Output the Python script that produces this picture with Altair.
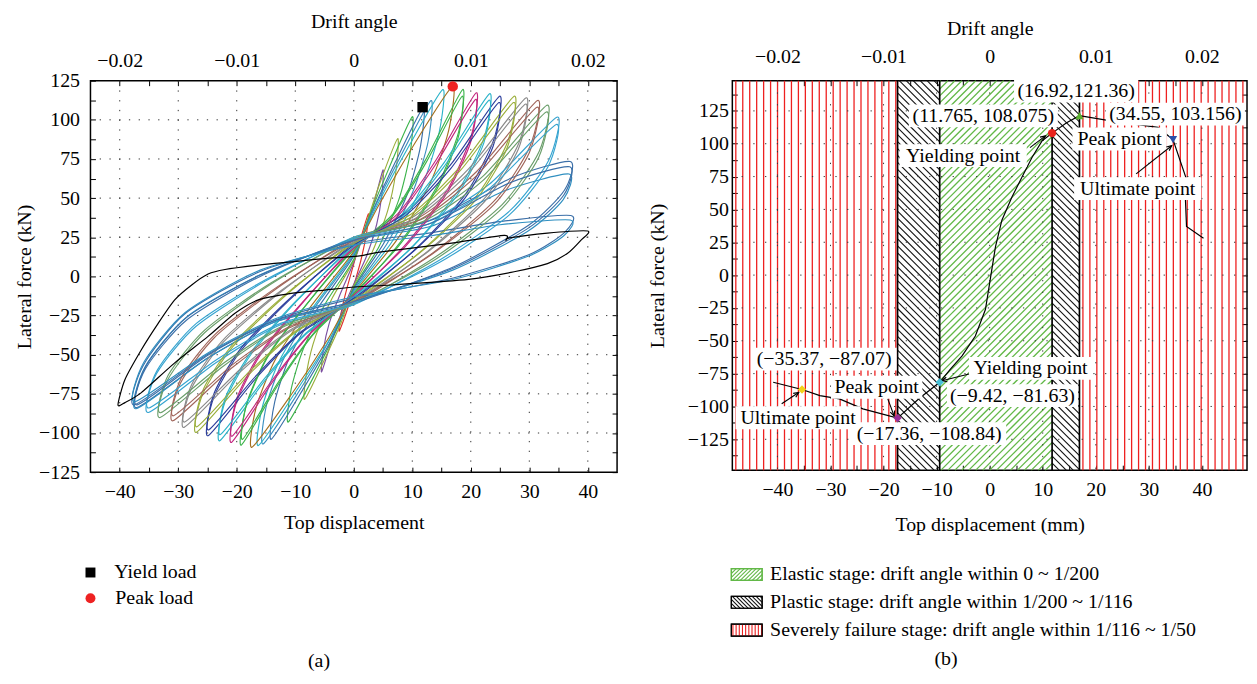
import math
import altair as alt
import pandas as pd

FONT = "Liberation Serif"
FS_LAB = 20
FS_TIT = 20

# ---------------- (a) hysteresis loops: (top displacement mm, lateral force kN) ----------------
LOOP_01 = [(-2.5, -35), (-2.2, -24), (-1.2, -8), (0, 8), (1, 22), (2.5, 40), (2.2, 28), (1.2, 10), (0, -6), (-1, -20)]
LOOP_02 = [(-5.5, -61), (-5.2, -47), (-4.2, -30), (-2.4, -12), (0, 9), (1.8, 28), (3.4, 46), (5, 68), (4.8, 52), (3.9, 33), (2.2, 13), (0, -5), (-2, -22), (-3.7, -40)]
LOOP_03 = [(-8.4, -78.5), (-8, -60), (-6.5, -38), (-3.7, -14), (0, 10), (1.9, 31), (4.5, 60), (7.5, 88), (7.2, 67), (5.8, 42), (3.2, 16), (0, -6), (-2.1, -29), (-5, -53)]
LOOP_04 = [(-11.2, -93), (-10.7, -72), (-8.6, -46), (-4.8, -17), (0, 11), (2.5, 37), (6, 69), (10, 102), (9.6, 78), (7.7, 49), (4.3, 19), (0, -7), (-2.8, -33), (-6.7, -63)]
LOOP_05 = [(-14.1, -104), (-13.5, -80), (-10.9, -51), (-6.1, -20), (0, 13), (3, 40), (7.1, 73), (11.9, 108), (11.4, 83), (9.2, 53), (5.1, 21), (0, -8), (-3.5, -38), (-8.5, -71)]
LOOP_06 = [(-15.5, -107), (-14.9, -82), (-11.9, -52), (-6.7, -20), (0, 14), (3.3, 42), (7.9, 76), (13.2, 112.3), (12.7, 86), (10.2, 55), (5.7, 21), (0, -9), (-3.9, -39), (-9.3, -73)]
LOOP_07 = [(-16.3, -108), (-15.6, -83), (-12.6, -53), (-7, -20), (0, 15), (3.8, 44), (9.1, 81), (15.2, 119.3), (14.6, 92), (11.7, 58), (6.5, 22), (0, -10), (-4.1, -40), (-9.8, -73)]
LOOP_08 = [(-17.4, -109.1), (-16.7, -84), (-13.4, -53), (-7.5, -20), (0, 16), (4.2, 45), (10.1, 83), (16.9, 121.4), (16.2, 93), (13, 59), (7.3, 23), (0, -11), (-4.4, -40), (-10.4, -74)]
LOOP_09 = [(-19.2, -107.7), (-18.4, -83), (-14.8, -52), (-8.3, -19), (0, 18), (6.7, 40), (12.5, 76), (18.6, 119.3), (17.9, 92), (14.3, 58), (8, 22), (0, -12), (-6.9, -37), (-12.9, -69)]
LOOP_10 = [(-20.9, -106), (-20.1, -81), (-16.1, -51), (-9, -18), (0, 19), (7.5, 40), (14, 74), (20.9, 117.2), (20.1, 90), (16.1, 56), (9, 21), (0, -13), (-7.5, -37), (-14, -68)]
LOOP_11 = [(-22.9, -104.9), (-22, -80), (-17.6, -50), (-9.8, -16), (0, 20), (8.4, 40), (15.5, 73), (23.2, 116.6), (22.3, 89), (17.9, 55), (10, 19), (0, -14), (-8.2, -37), (-15.3, -67)]
LOOP_12 = [(-24.9, -101.7), (-23.9, -77), (-19.2, -47), (-10.7, -14), (0, 21), (9, 41), (16.7, 72), (24.9, 115), (23.9, 87), (19.2, 53), (10.7, 18), (0, -15), (-9, -36), (-16.7, -65)]
LOOP_13 = [(-26.9, -99.6), (-25.8, -75), (-20.7, -45), (-11.6, -12), (0, 22), (9.9, 40), (18.4, 71), (27.4, 115), (26.3, 86), (21.1, 52), (11.8, 17), (0, -16), (-9.7, -35), (-18, -63)]
LOOP_14 = [(-29, -96.4), (-27.8, -72), (-22.3, -42), (-12.5, -10), (0, 23), (10.6, 39), (19.7, 69), (29.4, 114), (28.2, 85), (22.6, 51), (12.6, 16), (0, -17), (-10.4, -34), (-19.4, -61)]
LOOP_15 = [(-30.9, -92.2), (-29.6, -68), (-23.8, -39), (-13.3, -8), (0, 24), (11.3, 38), (21, 67), (31.4, 112.3), (30.1, 83), (24.2, 49), (13.5, 15), (0, -17), (-11.1, -33), (-20.7, -58)]
LOOP_16 = [(-33.1, -90.1), (-31.8, -66), (-25.5, -36), (-14.2, -5), (0, 25), (11.9, 37), (22.1, 64), (33, 109.3), (31.7, 80), (25.4, 46), (14.2, 13), (0, -18), (-11.9, -32), (-22.2, -57)]
LOOP_17 = [(-35.1, -86.9), (-33.7, -62), (-27, -32), (-15.1, -3), (0, 25), (12.5, 35), (23.2, 59), (34.7, 101.7), (33.3, 74), (26.7, 42), (14.9, 11), (0, -18), (-12.6, -31), (-23.5, -55)]
LOOP_18 = [(-37.1, -83.8), (-35.6, -59), (-28.6, -28), (-16, 0), (0, 24), (13.3, 36), (27, 63), (37, 73.4), (36, 55), (30, 33), (17, 6), (0, -17), (-13.4, -29), (-24.9, -52)]
LOOP_19 = [(-37.2, -84.5), (-35.7, -58), (-28.6, -26), (-16, 1), (0, 23), (13.2, 32), (26, 55), (36.8, 65.4), (35.8, 49), (29.8, 29), (16.9, 4), (0, -16), (-13.4, -29), (-24.9, -52)]
LOOP_20 = [(-37.5, -82), (-36, -57), (-28.9, -24), (-16.1, 3), (0, 21), (13.4, 28), (25, 35), (37.1, 38.9), (36, 28), (30, 14), (17, -1), (0, -14), (-13.5, -28), (-25.1, -50)]
# repeated (second) cycles at the same amplitudes
LOOP_09B = [(-19.0, -104), (-18.2, -80), (-14.6, -50), (-8.1, -18), (0, 17), (6.5, 38), (12.4, 73), (18.5, 115), (17.8, 88), (14.1, 55), (7.8, 20), (0, -11), (-6.8, -36), (-12.8, -67)]
LOOP_10B = [(-20.8, -102), (-20, -78), (-16, -49), (-8.9, -17), (0, 18), (7.4, 38), (13.9, 71), (20.8, 113), (20, 86), (15.9, 53), (8.8, 19), (0, -12), (-7.4, -36), (-13.9, -66)]
LOOP_11B = [(-22.8, -101), (-21.9, -77), (-17.5, -48), (-9.7, -15), (0, 19), (8.3, 38), (15.4, 70), (23.1, 112.5), (22.2, 85), (17.7, 52), (9.8, 18), (0, -13), (-8.1, -36), (-15.2, -65)]
LOOP_12B = [(-24.8, -98), (-23.8, -74), (-19.1, -45), (-10.6, -13), (0, 20), (8.9, 39), (16.6, 69), (24.8, 111), (23.8, 83), (19, 50), (10.5, 17), (0, -14), (-8.9, -35), (-16.6, -63)]
LOOP_13B = [(-26.8, -96), (-25.7, -72), (-20.6, -43), (-11.5, -11), (0, 21), (9.8, 38), (18.3, 68), (27.3, 111), (26.2, 82), (20.9, 49), (11.6, 16), (0, -15), (-9.6, -34), (-17.9, -61)]
LOOP_14B = [(-28.9, -93), (-27.7, -69), (-22.2, -40), (-12.4, -9), (0, 22), (10.5, 37), (19.6, 66), (29.3, 110), (28.1, 81), (22.4, 48), (12.4, 15), (0, -16), (-10.3, -33), (-19.3, -59)]
LOOP_15B = [(-30.8, -89), (-29.5, -65), (-23.7, -37), (-13.2, -7), (0, 23), (11.2, 36), (20.9, 64), (31.3, 108), (30, 79), (24, 46), (13.3, 14), (0, -16), (-11, -32), (-20.6, -56)]
LOOP_16B = [(-33, -87), (-31.7, -63), (-25.4, -34), (-14.1, -4), (0, 24), (11.8, 35), (22, 61), (32.9, 105), (31.6, 76), (25.2, 43), (14, 11), (0, -17), (-11.8, -31), (-22.1, -55)]
LOOP_17B = [(-35, -84), (-33.6, -60), (-26.9, -30), (-15, -2), (0, 24), (12.4, 33), (23.1, 56), (34.6, 97), (33.2, 70), (26.5, 39), (14.7, 9), (0, -17), (-12.5, -30), (-23.4, -53)]
LOOP_18B = [(-37, -82), (-35.5, -57), (-28.5, -26), (-15.9, 1), (0, 23), (13.2, 34), (26.8, 60), (36.9, 70), (35.9, 52), (29.9, 31), (16.9, 5), (0, -16), (-13.3, -28), (-24.8, -50)]
LOOP_20B = [(-37.4, -80), (-35.9, -55), (-28.8, -23), (-16, 4), (0, 20), (13.3, 26), (25, 33), (37, 36), (35.9, 26), (29.9, 13), (16.9, -2), (0, -13), (-13.4, -27), (-25, -49)]

LOOPS = [LOOP_01, LOOP_02, LOOP_03, LOOP_04, LOOP_05, LOOP_06, LOOP_07, LOOP_08, LOOP_09, LOOP_10,
         LOOP_11, LOOP_12, LOOP_13, LOOP_14, LOOP_15, LOOP_16, LOOP_17, LOOP_18, LOOP_19, LOOP_20,
         LOOP_09B, LOOP_10B, LOOP_11B, LOOP_12B, LOOP_13B, LOOP_14B, LOOP_15B, LOOP_16B, LOOP_17B,
         LOOP_18B, LOOP_20B]
LOOP_COLORS = ["#e0302a", "#7b4fa0", "#9aae3a", "#3cb44b", "#3b6fa8", "#3a8fc0", "#2bb3c9", "#a4701f",
               "#3cb44b", "#c2267e", "#2bb3c9", "#2c3e9c", "#9aae3a", "#8a8a8a", "#a0655a", "#6a9e6a",
               "#36a4d0", "#3b6fa8", "#2f8fc0", "#3b6fa8",
               "#3cb44b", "#c2267e", "#2bb3c9", "#2c3e9c", "#9aae3a", "#8a8a8a", "#a0655a", "#6a9e6a",
               "#36a4d0", "#3b6fa8", "#2f8fc0"]

BLACK_LOOP = [(-40.3, -82), (-39.1, -65.8), (-36.3, -46.8), (-33.4, -29.8), (-30.6, -15), (-27.7, -5.5),
              (-24.9, 1.5), (-22, 4.4), (-16.3, 7.2), (-10.7, 9.3), (-5, 11.4), (0.7, 12.9), (4.7, 15.7),
              (16.1, 20.9), (25.7, 26.2), (26, 23), (26.6, 24.6), (33.1, 27.7), (40, 29),
              (38.8, 23), (36.5, 14.6), (33.1, 8.2), (27.4, 3), (19.6, -1.9), (6.4, -5.5), (0.7, -6.6),
              (-5, -8.7), (-10.7, -10.8), (-16.3, -15), (-20.3, -23.5), (-24.9, -38.3), (-30.6, -55.2),
              (-36.3, -74.2), (-39.1, -80.6)]

A_MARK_X = [11.765, 16.92]
A_MARK_Y = [108.075, 121.36]
A_MARK_NAME = ["Yield load", "Peak load"]
A_MARK_COLOR = ["black", "#ee2222"]
A_MARK_SHAPE = ["square", "circle"]

# ---------------- (b) skeleton curve and stage division ----------------
SKEL_X = [-40.8, -35.37, -32.0, -28.3, -23.9, -17.36, -13.3, -9.42, -7.4, -5.2, -2.7, -0.8, 0.1, 1.1,
          2.3, 4.2, 6.1, 8.0, 9.9, 11.765, 14.5, 16.92, 22.8, 31.7, 34.55, 37.0, 36.9, 37.1, 40.3]
SKEL_Y = [-81.6, -87.07, -91.7, -94.2, -101.8, -108.84, -94.0, -81.63, -71.5, -61.5, -46.4, -26.2, -3.5,
          21.7, 41.8, 59.5, 74.6, 89.7, 102.3, 108.075, 116.0, 121.36, 117.4, 112.4, 103.156, 74.0, 57.0,
          37.0, 28.0]

KEY_X = [11.765, 16.92, 34.55, -9.42, -17.36, -35.37]
KEY_Y = [108.075, 121.36, 103.156, -81.63, -108.84, -87.07]
KEY_COLOR = ["#e8221c", "#5cb030", "#2d4fa8", "#46c0d8", "#9b2e9b", "#f2d21b"]
KEY_SHAPE = ["circle", "triangle-up", "triangle-down", "diamond", "diamond", "diamond"]

STAGE_EDGES = [-17.36, -9.42, 11.765, 16.92]

LAB_TEXT = ["(16.92,121.36)", "(11.765, 108.075)", "(34.55, 103.156)", "Peak piont", "Ultimate point",
            "Yielding point", "(\u221235.37, \u221287.07)", "Peak point", "Ultimate point",
            "(\u221217.36, \u2212108.84)", "Yielding point", "(\u22129.42, \u221281.63)"]
LAB_X = [16.3, -1.2, 35.0, 24.5, 27.9, -5.0, -31.2, -21.3, -36.1, -11.4, 7.7, 4.3]
LAB_Y = [140.1, 121.2, 122.5, 103.6, 65.8, 91.0, -64.0, -85.4, -108.6, -120.7, -71.0, -91.7]
LAB_W = [125, 150, 140, 95, 128, 128, 146, 92, 126, 155, 124, 132]

ARR_X1 = [7.6, 27.6, -3.9, -19.2, -39.2]
ARR_Y1 = [97.0, 77.0, -75.3, -94.2, -98.0]
ARR_X2 = [10.5, 34.3, -9.0, -18.0, -36.0]
ARR_Y2 = [106.0, 98.5, -80.4, -107.3, -89.4]

LEG_B_TEXT = ["Elastic stage: drift angle within 0 ~ 1/200",
              "Plastic stage: drift angle within 1/200 ~ 1/116",
              "Severely failure stage: drift angle within 1/116 ~ 1/50"]

# ---------------- layout / style ----------------
WL, HL = 530, 394
XL, YL = [-45, 45], [-125, 125]
WR, HR = 518, 392
XR, YR = [-48.5, 48.5], [-148.5, 148.0]
KXR = WR / (XR[1] - XR[0])
KYR = HR / (YR[1] - YR[0])
GREEN = "#62b847"
RED = "#ee2020"


def axis(orient, values, label_expr, title, lab_pad, tit_pad, labels=True):
    kw = dict(orient=orient, values=values, grid=False, domain=False, ticks=True, tickSize=5,
              offset=-5, tickColor="black", tickWidth=1, labelFont=FONT, labelFontSize=FS_LAB,
              labelColor="black", labelOverlap=False, labelFlush=False, labelPadding=lab_pad,
              titleFont=FONT, titleFontSize=FS_TIT, titleFontWeight="normal", titleColor="black",
              titlePadding=tit_pad, title=title, labels=labels)
    if label_expr:
        kw["labelExpr"] = label_expr
    return alt.Axis(**kw)


LBL10 = "datum.value % 10 == 0 ? format(datum.value, 'd') : ''"
LBL25 = "datum.value % 25 == 0 ? format(datum.value, 'd') : ''"
LBLDR = "datum.value % 20 == 0 ? (datum.value == 0 ? '0' : format(datum.value / 2000, '.2f')) : ''"
XT = list(range(-40, 45, 5))


def grid_layers(xs, ys, gx, gy, dash):
    g1 = alt.Chart(pd.DataFrame({"v": gx})).mark_rule(strokeDash=dash, color="#333", strokeWidth=1).encode(
        x=alt.X("v:Q", scale=xs, axis=None))
    g2 = alt.Chart(pd.DataFrame({"v": gy})).mark_rule(strokeDash=dash, color="#333", strokeWidth=1).encode(
        y=alt.Y("v:Q", scale=ys, axis=None))
    return [g1, g2]


# ================= panel (a) =================
xsL = alt.Scale(domain=XL, nice=False, zero=False)
ysL = alt.Scale(domain=YL, nice=False, zero=False)
YT_L = [v * 12.5 for v in range(-10, 11)]

rows = []
ids = []
for k, pts in enumerate(LOOPS):
    lid = "L%02d" % (k + 1)
    ids.append(lid)
    for i, (x, y) in enumerate(pts):
        rows.append({"loop": lid, "i": i, "x": x, "y": y})
loops_df = pd.DataFrame(rows)
black_df = pd.DataFrame([{"i": i, "x": x, "y": y} for i, (x, y) in enumerate(BLACK_LOOP)])

loops_a = alt.Chart(loops_df).mark_line(interpolate="cardinal-closed", tension=0.3, strokeWidth=1.15).encode(
    x=alt.X("x:Q", scale=xsL, axis=axis("bottom", XT, LBL10, "Top displacement", 10, 11)),
    y=alt.Y("y:Q", scale=ysL, axis=axis("left", YT_L, LBL25, "Lateral force (kN)", 11, 4)),
    color=alt.Color("loop:N", scale=alt.Scale(domain=ids, range=LOOP_COLORS), legend=None),
    order=alt.Order("i:Q"),
)
black_a = alt.Chart(black_df).mark_line(interpolate="cardinal-closed", tension=0.3, strokeWidth=1.2,
                                        color="black").encode(
    x=alt.X("x:Q", scale=xsL, axis=None), y=alt.Y("y:Q", scale=ysL, axis=None), order=alt.Order("i:Q"))
marks_a = alt.Chart(pd.DataFrame({"x": A_MARK_X, "y": A_MARK_Y, "c": A_MARK_COLOR, "s": A_MARK_SHAPE})).mark_point(
    filled=True, size=110, opacity=1).encode(
    x=alt.X("x:Q", scale=xsL, axis=axis("top", XT, LBLDR, "Drift angle", 10, 20)),
    y=alt.Y("y:Q", scale=ysL, axis=axis("right", YT_L, None, None, 2, 2, labels=False)),
    color=alt.Color("c:N", scale=None), shape=alt.Shape("s:N", scale=None))

panel_a = alt.layer(*grid_layers(xsL, ysL, list(range(-40, 50, 10)), [-100, -75, -50, -25, 0, 25, 50, 75, 100], [1.3, 8.5]),
                    loops_a, black_a, marks_a).resolve_axis(x="independent", y="independent").properties(
    width=WL, height=HL)

# legend (a) + caption, pixel coordinates relative to the plot's left edge
leg_a_pts = pd.DataFrame({"px": [0, 0], "py": [38, 64], "c": A_MARK_COLOR, "s": A_MARK_SHAPE})
leg_a_txt = pd.DataFrame({"px": [24, 25], "py": [38, 64], "t": A_MARK_NAME})
leg_a = alt.layer(
    alt.Chart(leg_a_pts).mark_point(filled=True, size=100, opacity=1).encode(
        x=alt.X("px:Q", scale=None), y=alt.Y("py:Q", scale=None),
        color=alt.Color("c:N", scale=None), shape=alt.Shape("s:N", scale=None)),
    alt.Chart(leg_a_txt).mark_text(font=FONT, fontSize=FS_TIT, align="left",
                                   baseline="middle", color="black").encode(
        x=alt.X("px:Q", scale=None), y=alt.Y("py:Q", scale=None), text="t:N"),
    alt.Chart(pd.DataFrame({"px": [230], "py": [127], "t": ["(a)"]})).mark_text(
        font=FONT, fontSize=FS_TIT, align="center", baseline="middle", color="black").encode(
        x=alt.X("px:Q", scale=None), y=alt.Y("py:Q", scale=None), text="t:N"),
).properties(width=480, height=115, view=alt.ViewBackground(stroke="transparent"))

# ================= panel (b) =================
xsR = alt.Scale(domain=XR, nice=False, zero=False)
ysR = alt.Scale(domain=YR, nice=False, zero=False)
YT_R = [v * 12.5 for v in range(-11, 12)]


def px_of(d):
    return (d - XR[0]) * KXR


def hatch(x0, x1, y0, y1, step, kind):
    segs = []
    if kind == "vert":
        x = x0 + step / 2
        while x < x1:
            segs.append((x, y0, x, y1))
            x += step
    elif kind == "fwd":  # '/'  px + py = c
        for k in range(math.ceil((x0 + y0) / step), math.floor((x1 + y1) / step) + 1):
            c = k * step
            xa, xb = max(x0, c - y1), min(x1, c - y0)
            if xb - xa > 0.3:
                segs.append((xa, c - xa, xb, c - xb))
    else:  # '\'  py - px = c
        for k in range(math.ceil((y0 - x1) / step), math.floor((y1 - x0) / step) + 1):
            c = k * step
            xa, xb = max(x0, y0 - c), min(x1, y1 - c)
            if xb - xa > 0.3:
                segs.append((xa, xa + c, xb, xb + c))
    return segs


def to_data(segs):
    return pd.DataFrame([{"x1": XR[0] + a / KXR, "y1": YR[1] - b / KYR,
                          "x2": XR[0] + c / KXR, "y2": YR[1] - d / KYR} for a, b, c, d in segs])


e0, e1, e2, e3 = STAGE_EDGES
red_segs = hatch(0, px_of(e0), 0, HR, 7, "vert") + hatch(px_of(e3), WR, 0, HR, 7, "vert")
blk_segs = hatch(px_of(e0), px_of(e1), 0, HR, 7, "back") + hatch(px_of(e2), px_of(e3), 0, HR, 7, "back")
grn_segs = hatch(px_of(e1), px_of(e2), 0, HR, 7, "fwd")


def seg_layer(df, color, width):
    return alt.Chart(df).mark_rule(color=color, strokeWidth=width).encode(
        x=alt.X("x1:Q", scale=xsR, axis=None), y=alt.Y("y1:Q", scale=ysR, axis=None),
        x2="x2:Q", y2="y2:Q")


red_l = alt.Chart(pd.DataFrame({"x": [XR[0] + s[0] / KXR for s in red_segs]})).mark_rule(
    color=RED, strokeWidth=1.3).encode(x=alt.X("x:Q", scale=xsR, axis=None))
blk_l = seg_layer(to_data(blk_segs), "#111", 1.1)
grn_l = seg_layer(to_data(grn_segs), GREEN, 1.3)
edge_l = alt.Chart(pd.DataFrame({"x": STAGE_EDGES})).mark_rule(color="black", strokeWidth=1.7).encode(
    x=alt.X("x:Q", scale=xsR, axis=None))

skel_df = pd.DataFrame({"x": SKEL_X, "y": SKEL_Y, "i": list(range(len(SKEL_X)))})
skel_l = alt.Chart(skel_df).mark_line(color="black", strokeWidth=1.2).encode(
    x=alt.X("x:Q", scale=xsR, axis=axis("bottom", XT, LBL10, "Top displacement (mm)", 10, 15)),
    y=alt.Y("y:Q", scale=ysR, axis=axis("left", YT_R, LBL25, "Lateral force (kN)", 4, 20)),
    order=alt.Order("i:Q"))

box_df = pd.DataFrame({
    "x1": [x - w / 2 / KXR for x, w in zip(LAB_X, LAB_W)],
    "x2": [x + w / 2 / KXR for x, w in zip(LAB_X, LAB_W)],
    "y1": [y - 11.5 / KYR for y in LAB_Y],
    "y2": [y + 11.5 / KYR for y in LAB_Y]})
box_l = alt.Chart(box_df).mark_rect(color="white").encode(
    x=alt.X("x1:Q", scale=xsR, axis=None), x2="x2:Q", y=alt.Y("y1:Q", scale=ysR, axis=None), y2="y2:Q")
txt_l = alt.Chart(pd.DataFrame({"x": LAB_X, "y": LAB_Y, "t": LAB_TEXT})).mark_text(
    font=FONT, fontSize=FS_TIT, color="black", align="center", baseline="middle").encode(
    x=alt.X("x:Q", scale=xsR, axis=None), y=alt.Y("y:Q", scale=ysR, axis=None), text="t:N")

arr_df = pd.DataFrame({"x1": ARR_X1, "y1": ARR_Y1, "x2": ARR_X2, "y2": ARR_Y2})
arr_df["ang"] = [
    math.degrees(math.atan2((b - a) * KXR, (d - c) * KYR)) % 360
    for a, b, c, d in zip(ARR_X1, ARR_X2, ARR_Y1, ARR_Y2)]
arr_l = alt.Chart(arr_df).mark_rule(color="black", strokeWidth=1.1).encode(
    x=alt.X("x1:Q", scale=xsR, axis=None), y=alt.Y("y1:Q", scale=ysR, axis=None), x2="x2:Q", y2="y2:Q")
head_l = alt.Chart(arr_df).mark_point(shape="M -0.7 1.5 L 0 0 L 0.7 1.5", filled=False, color="black",
                                      strokeWidth=1.2, size=45, opacity=1).encode(
    x=alt.X("x2:Q", scale=xsR, axis=None), y=alt.Y("y2:Q", scale=ysR, axis=None),
    angle=alt.Angle("ang:Q", scale=None))

key_l = alt.Chart(pd.DataFrame({"x": KEY_X, "y": KEY_Y, "c": KEY_COLOR, "s": KEY_SHAPE})).mark_point(
    filled=True, size=70, opacity=1).encode(
    x=alt.X("x:Q", scale=xsR, axis=axis("top", XT, LBLDR, "Drift angle", 14, 8)),
    y=alt.Y("y:Q", scale=ysR, axis=axis("right", YT_R, None, None, 2, 2, labels=False)),
    color=alt.Color("c:N", scale=None), shape=alt.Shape("s:N", scale=None))

panel_b = alt.layer(red_l, blk_l, grn_l, edge_l,
                    *grid_layers(xsR, ysR, list(range(-40, 50, 10)), list(range(-125, 150, 25)), [1.3, 10.5]),
                    skel_l, box_l, txt_l, arr_l, head_l, key_l).resolve_axis(
    x="independent", y="independent").properties(width=WR, height=HR)

# legend (b) + caption, pixel coordinates relative to the plot's left edge
SW_X0, SW_X1, SW_H = -1, 30, 12
SW_Y = [38, 66, 94]
sw_rect = pd.DataFrame({"x1": [SW_X0] * 3, "x2": [SW_X1] * 3,
                        "y1": [y - SW_H / 2 for y in SW_Y], "y2": [y + SW_H / 2 for y in SW_Y],
                        "c": [GREEN, "black", "black"]})
sw_lines = []
for kind, col, y in [("fwd", GREEN, SW_Y[0]), ("back", "#111", SW_Y[1]), ("vert", RED, SW_Y[2])]:
    step = 3.2 if kind == "vert" else 4.0
    for a, b, c, d in hatch(SW_X0, SW_X1, y - SW_H / 2, y + SW_H / 2, step, kind):
        sw_lines.append({"x1": a, "y1": b, "x2": c, "y2": d, "c": col})
sw_lines = pd.DataFrame(sw_lines)
leg_b_txt = pd.DataFrame({"px": [38] * 3, "py": SW_Y, "t": LEG_B_TEXT})
leg_b = alt.layer(
    alt.Chart(sw_rect).mark_rect(fill="white", strokeWidth=1.2).encode(
        x=alt.X("x1:Q", scale=None), x2="x2:Q", y=alt.Y("y1:Q", scale=None), y2="y2:Q",
        stroke=alt.Color("c:N", scale=None)),
    alt.Chart(sw_lines).mark_rule(strokeWidth=1.1).encode(
        x=alt.X("x1:Q", scale=None), x2="x2:Q", y=alt.Y("y1:Q", scale=None), y2="y2:Q",
        color=alt.Color("c:N", scale=None)),
    alt.Chart(sw_rect).mark_rect(fill="transparent", strokeWidth=1.2).encode(
        x=alt.X("x1:Q", scale=None), x2="x2:Q", y=alt.Y("y1:Q", scale=None), y2="y2:Q",
        stroke=alt.Color("c:N", scale=None)),
    alt.Chart(leg_b_txt).mark_text(font=FONT, fontSize=FS_TIT, align="left", baseline="middle",
                                   color="black").encode(
        x=alt.X("px:Q", scale=None), y=alt.Y("py:Q", scale=None), text="t:N"),
    alt.Chart(pd.DataFrame({"px": [215], "py": [123], "t": ["(b)"]})).mark_text(
        font=FONT, fontSize=FS_TIT, align="center", baseline="middle", color="black").encode(
        x=alt.X("px:Q", scale=None), y=alt.Y("py:Q", scale=None), text="t:N"),
).properties(width=500, height=110, view=alt.ViewBackground(stroke="transparent"))

chart = alt.hconcat(
    alt.vconcat(panel_a, leg_a, spacing=0),
    alt.vconcat(panel_b, leg_b, spacing=0),
    spacing=27,
).configure_view(stroke="black", strokeWidth=1.5).properties(
    padding={"left": 5, "top": 0, "right": 0, "bottom": 0})

chart.save("out.html", embed_options={"renderer": "svg", "actions": False})
